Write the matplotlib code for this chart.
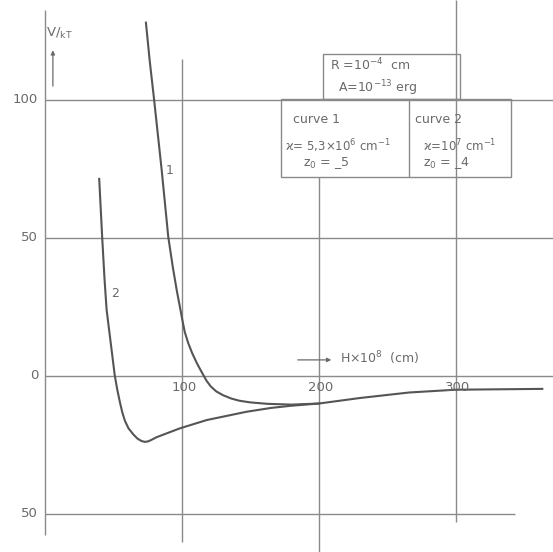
import matplotlib
matplotlib.use("Agg")
import matplotlib.pyplot as plt
from matplotlib.patches import Rectangle

# curve 1: kappa = 5.3e6 cm^-1, z0 = -5
curve1_x = [73.7, 76.5, 79.6, 85.2, 90.0, 93.3, 96.2, 98.5, 100.2, 102.0, 104.5,
            107.5, 111.0, 113.5, 115.5, 118.0, 121.0, 125.0, 130.0, 136.0, 142.0,
            150.0, 162.0, 180.0, 200.0, 230.0, 266.0, 300.0, 363.0]
curve1_y = [128.0, 114.0, 100.4, 74.6, 50.4, 39.5, 31.0, 25.0, 20.5, 16.0, 12.0,
            8.2, 4.5, 2.2, 0.4, -1.8, -3.8, -5.6, -7.0, -8.2, -9.0,
            -9.6, -10.1, -10.4, -10.0, -8.0, -6.0, -5.0, -4.7]

# curve 2: kappa = 1e7 cm^-1, z0 = -4
curve2_x = [39.6, 41.8, 43.5, 45.0, 48.0, 51.0, 52.8, 54.7, 56.5, 58.4, 61.0,
            64.5, 67.5, 70.5, 73.0, 75.5, 78.0, 81.5, 90.0, 98.5, 118.0, 147.0,
            165.0, 180.0, 200.0]
curve2_y = [71.4, 50.0, 35.0, 24.0, 12.0, 0.0, -5.0, -9.5, -13.3, -16.3, -19.0,
            -21.2, -22.7, -23.6, -23.9, -23.7, -23.1, -22.2, -20.6, -19.0, -16.0,
            -13.0, -11.6, -10.8, -10.0]

x_ticks = [100, 200, 300]
y_ticks = [100, 50, 0, -50]
y_tick_labels = ["100", "50", "0", "50"]

GRID = "#8a8a8a"
INK = "#555555"
TXT = "#6a6a6a"

fig = plt.figure(figsize=(5.53, 5.52), dpi=100)
ax = fig.add_axes([0, 0, 1, 1])
ax.set_xlim(-32.8, 370.8)
ax.set_ylim(-63.8, 136.2)
ax.axis("off")

# grid / axes lines
ax.vlines(0, -57.6, 132.6, color=GRID, lw=1.0)
ax.vlines(100, -60.0, 115.0, color=GRID, lw=1.0)
ax.vlines(200, -64.0, 72.1, color=GRID, lw=1.0)
ax.vlines(300, -53.0, 136.2, color=GRID, lw=1.0)
for yv in [100, 50, 0]:
    ax.hlines(yv, 0, 370.8, color=GRID, lw=1.0)
ax.hlines(-50, 0, 343, color=GRID, lw=1.0)

# curves
ax.plot(curve1_x, curve1_y, color=INK, lw=1.5, solid_joinstyle="round")
ax.plot(curve2_x, curve2_y, color=INK, lw=1.5, solid_joinstyle="round")
ax.text(91, 74.6, "1", color=TXT, fontsize=9, ha="center", va="center")
ax.text(51, 30, "2", color=TXT, fontsize=9, ha="center", va="center")

# tick labels
for yv, lab in zip(y_ticks, y_tick_labels):
    ax.text(-5, yv, lab, color=TXT, fontsize=9.5, ha="right", va="center")
for xv in x_ticks:
    ax.text(xv + 1.5, -1.8, str(xv), color=TXT, fontsize=9.5, ha="center", va="top")

# axis titles
ax.text(0.5, 124, r"V/$_{\mathrm{kT}}$", color=TXT, fontsize=9.5, ha="left", va="center")
ax.annotate("", xy=(5.8, 119), xytext=(5.8, 104),
            arrowprops=dict(arrowstyle="-|>", color=TXT, lw=0.9, mutation_scale=6))
ax.annotate("", xy=(211, 5.8), xytext=(182.5, 5.8),
            arrowprops=dict(arrowstyle="-|>", color=TXT, lw=0.9, mutation_scale=6))
ax.text(215, 6.5, r"H$\times$10$^{8}$  (cm)", color=TXT, fontsize=9, ha="left", va="center")

# parameter boxes
ax.add_patch(Rectangle((203, 100.4), 100, 16.3, fill=False, ec=GRID, lw=1.0))
ax.add_patch(Rectangle((172, 72.1), 168, 28.3, fill=False, ec=GRID, lw=1.0))
ax.vlines(266, 72.1, 100.4, color=GRID, lw=1.0)

ax.text(208, 112.5, r"R =10$^{-4}$  cm", color=TXT, fontsize=9, ha="left", va="center")
ax.text(214, 104.3, r"A=10$^{-13}$ erg", color=TXT, fontsize=9, ha="left", va="center")

ax.text(181, 92.8, "curve 1", color=TXT, fontsize=9, ha="left", va="center")
ax.text(175.5, 83.3, "ϰ= 5,3×10$^{6}$ cm$^{-1}$", color=TXT, fontsize=8.5, ha="left", va="center")
ax.text(188, 77.3, "z$_{0}$ = _5", color=TXT, fontsize=9, ha="left", va="center")

ax.text(270, 92.8, "curve 2", color=TXT, fontsize=9, ha="left", va="center")
ax.text(276, 83.3, "ϰ=10$^{7}$ cm$^{-1}$", color=TXT, fontsize=8.5, ha="left", va="center")
ax.text(276, 77.3, "z$_{0}$ = _4", color=TXT, fontsize=9, ha="left", va="center")

fig.savefig("out.png", dpi=100, facecolor="white")
